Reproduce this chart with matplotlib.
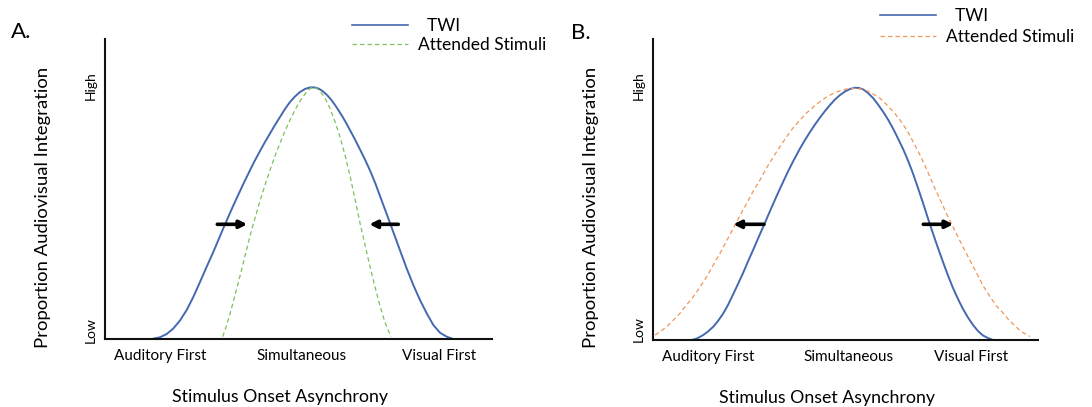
import numpy as np
import matplotlib
matplotlib.use("Agg")
import matplotlib.pyplot as plt
from matplotlib.lines import Line2D

plt.rcParams.update({
    'font.family': ['Lato', 'DejaVu Sans'],
    'axes.edgecolor': '#111111',
    'axes.linewidth': 1.5,
})

# ---- data (arbitrary units: x = stimulus onset asynchrony, y = integration) ----
tick_labels = ["Auditory First", "Simultaneous", "Visual First"]
y_tick_labels = ["Low", "High"]

# panel A
a_twi_x = [46.7, 55, 61.7, 68.3, 75, 81.7, 88.3, 95, 101.7, 108.3, 118.3, 128.3, 138.3,
           148.3, 155, 160, 165, 170, 175, 180, 185, 190, 195, 200, 205, 210, 214, 218,
           222, 226, 230, 234, 238, 242, 246, 250, 255, 260, 265, 270, 275, 280, 285,
           290, 296.7, 301.7, 308.3, 315, 321.7, 328.3, 335, 341.7, 348.3]
a_twi_y = [0, 1.7, 5, 10.5, 18.5, 29, 42, 57, 72.3, 87, 110.7, 133.5, 155, 175.5,
           188, 197, 205.5, 214, 222, 230, 237, 242.5, 247, 250, 251.6, 251.5, 250.2,
           247.6, 244, 239.5, 234, 228, 221.5, 214.5, 207, 199.5, 189.5, 179.5, 168.5,
           156.5, 143, 129.5, 116, 102.3, 84, 70.5, 54, 39, 25.7, 14, 6.3, 2.3, 0]
a_att_x = [117.7, 121, 125, 130, 135, 140, 145, 150, 155, 160, 165, 170, 175, 180, 185,
           190, 195, 200, 204, 207, 210, 213.3, 217, 221, 225, 230, 235, 240, 245, 250,
           255, 260, 265, 270, 275, 280, 286]
a_att_y = [2.3, 12, 25, 44, 63, 83, 103, 121, 138, 154, 169, 183, 196, 208, 219, 229,
           238, 245, 249.5, 251.7, 251.3, 249.5, 245.5, 239, 230.5, 217.5, 202, 184,
           163, 140, 116, 94, 72.5, 52, 33, 16.5, 2.3]
a_arrow_tail = [112.3, 293.3]
a_arrow_tip = [142.3, 264.3]
a_arrow_y = [114.7, 114.7]
a_tick_x = [55.5, 196.5, 334.5]
a_ytick_y = [9, 253.3]

# panel B
b_twi_x = [38.7, 44, 50.3, 55, 60.3, 65, 70.3, 75, 80.3, 85, 90.3, 95, 100.3, 105.5,
           111, 115.5, 120.3, 125, 130.3, 135, 140.3, 147, 152, 157, 162, 167, 172, 177,
           182, 187, 192, 197, 202, 206, 210.3, 215, 220.3, 225, 230.3, 235, 240.3, 245,
           250.3, 255, 260, 265, 270, 275, 280, 285, 290, 295, 300, 305, 310, 315, 320,
           325, 330, 335, 340]
b_twi_y = [0, 1.5, 5, 8.5, 13.3, 19, 26.7, 35, 46, 56, 67.5, 78.5, 90.5, 102.5, 115,
           125.5, 136.5, 147, 158.5, 168.5, 179, 191.5, 200, 208, 215.5, 222.5, 229, 235,
           240.5, 245, 248.5, 251, 252.3, 252, 250.5, 247, 241.7, 235.5, 228, 220.5, 211,
           201.5, 190.5, 179.5, 166.5, 152, 137, 121.5, 106.5, 92, 78, 64.5, 52, 41, 31,
           22.5, 15, 9, 4.5, 2, 0]
b_att_x = [2, 8, 13.7, 20, 27, 33, 40.3, 47, 53.7, 60, 67, 73.5, 80.3, 87, 93.7, 100,
           107, 113.5, 120.3, 127, 133.7, 140, 147, 153.5, 160.3, 167, 173.7, 180, 187,
           193.5, 200.3, 207, 213.7, 220, 227, 233.5, 240.3, 247, 253.7, 260.3, 267,
           273.5, 280, 287, 293.5, 300.3, 305, 310.3, 317, 323.7, 330, 337, 343.5, 350.3,
           355, 360, 368, 377]
b_att_y = [5, 9, 13.3, 19.5, 26.7, 34.5, 43.3, 53, 63.3, 74.5, 86.7, 99, 111.7, 124.5,
           136.7, 148.5, 160, 172, 183, 193.5, 203.3, 212, 220, 227, 233, 238.5, 243,
           246.5, 249.2, 251, 251.7, 251.2, 249.3, 246, 241.7, 235.5, 228.3, 220, 210,
           198, 185, 171, 156, 140.5, 126.5, 112.5, 103, 92.5, 79.5, 66.7, 54.5, 43.3,
           34, 26.7, 21, 16, 8.5, 3.5]
b_arrow_tail = [111, 270.3]
b_arrow_tip = [80.3, 300.3]
b_arrow_y = [115.7, 115.7]
b_tick_x = [55, 195.5, 318]
b_ytick_y = [10.5, 254.5]

TWI_COLOR = '#4469B0'
GREEN = '#7DC05A'
ORANGE = '#F0955A'

fig = plt.figure(figsize=(10.92, 4.07), dpi=100)
ax_a = fig.add_axes([105 / 1092, 68 / 407, 387 / 1092, 300 / 407])
ax_b = fig.add_axes([653 / 1092, 67 / 407, 385 / 1092, 301 / 407])


def draw_panel(ax, xmax, ymax, twi_x, twi_y, att_x, att_y, att_color,
               tails, tips, arrow_y, tick_x, ytick_y, legend_anchor, spacing):
    ax.plot(twi_x, twi_y, color=TWI_COLOR, lw=1.4, solid_joinstyle='round',
            solid_capstyle='round')
    ax.plot(att_x, att_y, color=att_color, lw=0.9, linestyle=(0, (3.5, 2.5)))
    for t0, t1, yy in zip(tails, tips, arrow_y):
        ax.annotate('', xy=(t1, yy), xytext=(t0, yy),
                    arrowprops=dict(arrowstyle='-|>', color='black', lw=2.6,
                                    mutation_scale=11, shrinkA=0, shrinkB=0))
    ax.set_xlim(0, xmax)
    ax.set_ylim(0, ymax)
    ax.spines['top'].set_visible(False)
    ax.spines['right'].set_visible(False)
    ax.set_xticks(tick_x, tick_labels, fontsize=11)
    ax.set_yticks(ytick_y, y_tick_labels, fontsize=10, rotation=90, va='center')
    ax.tick_params(axis='x', length=0, pad=7)
    ax.tick_params(axis='y', length=0, pad=6)
    ax.text(-62 / xmax, 0.44, "Proportion Audiovisual Integration", rotation=90,
            ha='center', va='center', fontsize=13.3, transform=ax.transAxes)
    ax.text(0.452, -0.193, "Stimulus Onset Asynchrony", ha='center', va='center',
            fontsize=12.8, transform=ax.transAxes)
    handles = [Line2D([], [], color=TWI_COLOR, lw=1.2),
               Line2D([], [], color=att_color, lw=0.9, linestyle=(0, (3.5, 2.5)))]
    ax.legend(handles, ["  TWI", "Attended Stimuli"], loc='upper left',
              bbox_to_anchor=legend_anchor, bbox_transform=fig.transFigure,
              frameon=False, fontsize=12.5, handlelength=3.2, handletextpad=0.6,
              labelspacing=spacing, borderpad=0, borderaxespad=0)


draw_panel(ax_a, 387, 300, a_twi_x, a_twi_y, a_att_x, a_att_y, GREEN,
           a_arrow_tail, a_arrow_tip, a_arrow_y, a_tick_x, a_ytick_y,
           (352 / 1092, 1 - 18 / 407), 0.15)
draw_panel(ax_b, 385, 301, b_twi_x, b_twi_y, b_att_x, b_att_y, ORANGE,
           b_arrow_tail, b_arrow_tip, b_arrow_y, b_tick_x, b_ytick_y,
           (880 / 1092, 1 - 8 / 407), 0.3)

fig.text(21 / 1092, 1 - 32 / 407, "A.", fontsize=16, ha='center', va='center')
fig.text(581 / 1092, 1 - 33 / 407, "B.", fontsize=16, ha='center', va='center')

fig.savefig("out.png", dpi=100)
